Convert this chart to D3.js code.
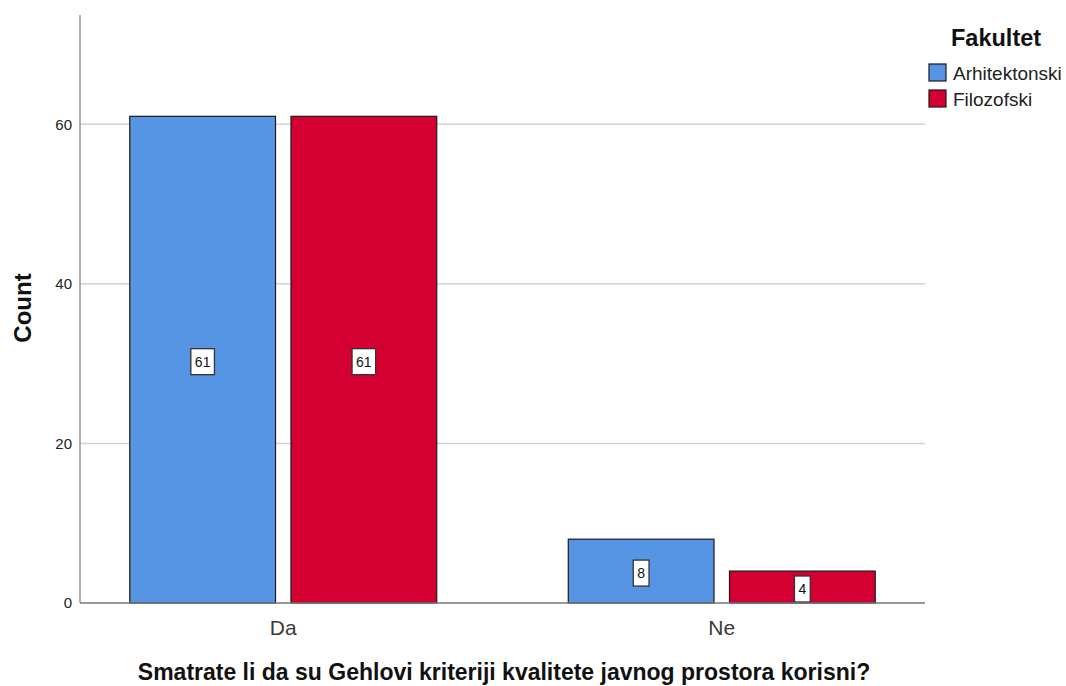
<!DOCTYPE html>
<html>
<head>
<meta charset="utf-8">
<script src="https://cdn.jsdelivr.net/npm/d3@7"></script>
<style>
  body { margin: 0; background: #fff; }
  svg { display: block; font-family: "Liberation Sans", Arial, sans-serif; }
</style>
</head>
<body>
<svg id="chart" width="1066" height="686"></svg>
<script>
const categories = ["Da", "Ne"];
const seriesNames = ["Arhitektonski", "Filozofski"];
const arhitektonski = [61, 8];
const filozofski = [61, 4];
const yTicks = [0, 20, 40, 60];
const yLabel = "Count";
const xLabel = "Smatrate li da su Gehlovi kriteriji kvalitete javnog prostora korisni?";
const legendTitle = "Fakultet";
const colors = ["#5595E3", "#D50032"];

const seriesValues = [arhitektonski, filozofski];
const data = categories.map((c, i) => ({
  cat: c,
  vals: seriesNames.map((s, j) => ({ key: s, idx: j, value: seriesValues[j][i] }))
}));

const svg = d3.select("#chart");
const mLeft = 80, mRight = 925, mTop = 15, mBottom = 603;

const x0 = d3.scaleBand().domain(categories).range([mLeft, mRight])
  .paddingInner(0.3).paddingOuter(0.1135);
const x1 = d3.scaleBand().domain(seriesNames).range([0, x0.bandwidth()])
  .paddingInner(0.096).paddingOuter(0);
const y = d3.scaleLinear().domain([0, 73.7]).range([mBottom, mTop]);

// gridlines
svg.append("g").selectAll("line").data(yTicks.filter(d => d > 0)).join("line")
  .attr("x1", mLeft).attr("x2", mRight)
  .attr("y1", d => y(d)).attr("y2", d => y(d))
  .attr("stroke", "#d2d2d2").attr("stroke-width", 1.5);

// y axis
const yAxis = d3.axisLeft(y).tickValues(yTicks).tickSize(0).tickPadding(8);
const gy = svg.append("g").attr("transform", `translate(${mLeft},0)`).call(yAxis);
gy.select(".domain").remove();
gy.selectAll("text").attr("font-size", 15).attr("fill", "#222")
  .attr("font-family", "Liberation Sans, Arial, sans-serif");
svg.append("line").attr("x1", mLeft).attr("x2", mLeft).attr("y1", mTop).attr("y2", mBottom)
  .attr("stroke", "#999").attr("stroke-width", 1.5);

// bars
const groups = svg.append("g").selectAll("g").data(data).join("g")
  .attr("transform", d => `translate(${x0(d.cat)},0)`);
groups.selectAll("rect").data(d => d.vals).join("rect")
  .attr("x", d => x1(d.key))
  .attr("width", x1.bandwidth())
  .attr("y", d => y(d.value))
  .attr("height", d => y(0) - y(d.value))
  .attr("fill", d => colors[d.idx])
  .attr("stroke", "#1a1a1a").attr("stroke-width", 1.2);

// value labels
const labels = groups.selectAll("g.lbl").data(d => d.vals).join("g").attr("class", "lbl")
  .attr("transform", d => `translate(${x1(d.key) + x1.bandwidth() / 2},${Math.min((y(d.value) + y(0)) / 2 + 2, y(0) - 14)})`);
labels.append("rect")
  .attr("x", d => -(String(d.value).length * 7.8 + 8) / 2)
  .attr("y", -13)
  .attr("width", d => String(d.value).length * 7.8 + 8)
  .attr("height", 26)
  .attr("fill", "#fff").attr("stroke", "#333").attr("stroke-width", 1.3);
labels.append("text").attr("text-anchor", "middle").attr("dy", "0.36em")
  .attr("font-size", 14).attr("fill", "#111").text(d => d.value);

// baseline
svg.append("line").attr("x1", mLeft).attr("x2", mRight).attr("y1", mBottom).attr("y2", mBottom)
  .attr("stroke", "#777").attr("stroke-width", 1.5);

// x axis labels
const xAxis = d3.axisBottom(x0).tickSize(0).tickPadding(17);
const gx = svg.append("g").attr("transform", `translate(0,${mBottom})`).call(xAxis);
gx.select(".domain").remove();
gx.selectAll("text").attr("font-size", 21).attr("fill", "#3a3a3a")
  .attr("font-family", "Liberation Sans, Arial, sans-serif");

// axis titles
svg.append("text").attr("x", 504).attr("y", 680).attr("text-anchor", "middle")
  .attr("font-size", 23).attr("font-weight", "bold").attr("fill", "#111").text(xLabel);
svg.append("text").attr("transform", "translate(31,308) rotate(-90)").attr("text-anchor", "middle")
  .attr("font-size", 24).attr("font-weight", "bold").attr("fill", "#111").text(yLabel);

// legend
svg.append("text").attr("x", 951).attr("y", 46).attr("font-size", 23.5).attr("font-weight", "bold")
  .attr("fill", "#111").text(legendTitle);
const leg = svg.append("g").selectAll("g").data(seriesNames).join("g")
  .attr("transform", (d, i) => `translate(929,${64 + i * 26})`);
leg.append("rect").attr("width", 17).attr("height", 17)
  .attr("fill", (d, i) => colors[i]).attr("stroke", "#1a1a1a").attr("stroke-width", 1.2);
leg.append("text").attr("x", 24).attr("y", 16).attr("font-size", 19).attr("fill", "#222").text(d => d);
</script>
</body>
</html>
